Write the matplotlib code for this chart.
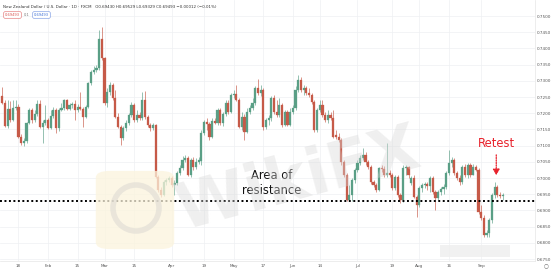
import matplotlib
matplotlib.use("Agg")
import matplotlib.pyplot as plt
from matplotlib.patches import FancyBboxPatch, Rectangle, Ellipse
import numpy as np

W, H = 553, 271

opens = [.7253,.7232,.7161,.7213,.7179,.7216,.7219,.7127,.7108,.7114,.7170,.7210,.7179,.7198,.7228,.7157,.7170,.7179,.7154,.7191,
         .7210,.7154,.7210,.7216,.7241,.7213,.7225,.7228,.7210,.7219,.7213,.7188,.7219,.7293,.7327,.7333,.7340,.7429,.7370,.7232,
         .7266,.7287,.7247,.7188,.7157,.7124,.7154,.7170,.7195,.7225,.7179,.7195,.7185,.7241,.7188,.7164,.7154,.7164,.7003,.6963,
         .6948,.6988,.6994,.7000,.6979,.6985,.7016,.7031,.7056,.7062,.7009,.7056,.7034,.7050,.7053,.7139,.7173,.7167,.7127,.7176,
         .7170,.7210,.7170,.7198,.7232,.7204,.7256,.7259,.7241,.7157,.7188,.7142,.7204,.7216,.7232,.7278,.7262,.7272,.7157,.7179,
         .7185,.7247,.7204,.7195,.7225,.7164,.7204,.7164,.7204,.7216,.7272,.7303,.7272,.7278,.7262,.7256,.7235,.7148,.7210,.7225,
         .7195,.7179,.7195,.7185,.7133,.7127,.7117,.7050,.7009,.6932,.6948,.6994,.7025,.7046,.7062,.7071,.7050,.7034,.6988,.6979,
         .6963,.7031,.7028,.7009,.7016,.7009,.6969,.7003,.6948,.6932,.7031,.7034,.6985,.7000,.6941,.6917,.6969,.6979,.6981,.6975,
         .7000,.6957,.6938,.6957,.6966,.6972,.7016,.7046,.7056,.7016,.7000,.6988,.7034,.7009,.7040,.7009,.7034,.7025,.6895,.6877,
         .6824,.6830,.6870,.6948,.6972,.6948,.6943]
highs = [.7281,.7241,.7241,.7238,.7241,.7241,.7228,.7136,.7124,.7173,.7216,.7216,.7210,.7241,.7241,.7179,.7225,.7185,.7210,.7219,
         .7216,.7216,.7232,.7244,.7244,.7232,.7235,.7241,.7228,.7266,.7219,.7225,.7296,.7333,.7346,.7349,.7457,.7466,.7373,.7278,
         .7296,.7293,.7272,.7201,.7164,.7161,.7179,.7201,.7235,.7232,.7210,.7204,.7266,.7269,.7195,.7170,.7170,.7167,.7009,.6972,
         .6994,.7000,.7006,.7006,.6994,.7022,.7040,.7068,.7071,.7068,.7062,.7065,.7062,.7065,.7148,.7179,.7185,.7173,.7185,.7185,
         .7216,.7216,.7204,.7241,.7241,.7262,.7272,.7287,.7247,.7204,.7198,.7216,.7225,.7247,.7284,.7306,.7287,.7278,.7185,.7195,
         .7253,.7256,.7241,.7247,.7232,.7210,.7210,.7216,.7225,.7284,.7318,.7312,.7287,.7284,.7278,.7262,.7241,.7216,.7241,.7241,
         .7204,.7210,.7204,.7210,.7148,.7139,.7124,.7056,.7016,.6979,.7000,.7031,.7056,.7071,.7093,.7080,.7056,.7040,.6994,.6985,
         .7034,.7040,.7037,.7108,.7025,.7016,.7009,.7009,.6954,.7040,.7040,.7037,.7006,.7009,.6948,.6975,.6985,.6988,.6988,.7006,
         .7006,.6963,.6963,.6972,.6982,.7022,.7086,.7065,.7062,.7022,.7009,.7040,.7043,.7046,.7046,.7043,.7040,.7031,.6917,.6886,
         .6840,.6877,.6954,.6988,.6979,.6957,.6953]
lows =  [.7228,.7157,.7154,.7173,.7176,.7210,.7124,.7102,.7099,.7108,.7167,.7170,.7173,.7191,.7154,.7108,.7164,.7151,.7151,.7185,
         .7139,.7145,.7207,.7210,.7210,.7210,.7216,.7179,.7204,.7210,.7157,.7185,.7216,.7287,.7321,.7327,.7333,.7364,.7225,.7219,
         .7256,.7241,.7185,.7154,.7102,.7117,.7145,.7164,.7188,.7173,.7173,.7179,.7179,.7182,.7157,.7145,.7148,.7000,.6957,.6941,
         .6945,.6979,.6988,.6972,.6948,.6979,.7009,.7025,.7050,.7006,.7003,.7025,.7028,.7043,.7040,.7133,.7148,.7117,.7124,.7167,
         .7164,.7164,.7161,.7191,.7198,.7201,.7247,.7238,.7154,.7148,.7117,.7139,.7198,.7210,.7225,.7256,.7253,.7148,.7151,.7164,
         .7176,.7198,.7188,.7188,.7157,.7161,.7161,.7161,.7198,.7210,.7266,.7266,.7256,.7256,.7250,.7228,.7142,.7142,.7204,.7188,
         .7173,.7170,.7179,.7124,.7120,.7111,.7040,.7003,.6929,.6929,.6929,.6985,.7019,.7040,.7056,.7040,.7028,.6982,.6972,.6957,
         .6960,.7019,.7003,.7003,.7003,.6963,.6963,.6941,.6923,.6926,.7009,.7000,.6979,.6938,.6880,.6911,.6957,.6969,.6963,.6957,
         .6951,.6901,.6932,.6948,.6951,.6966,.7009,.7034,.7009,.6994,.6979,.6982,.7003,.7000,.7003,.7009,.7022,.6889,.6870,.6818,
         .6818,.6818,.6861,.6938,.6941,.6938,.6933]
closes = [.7232,.7161,.7213,.7179,.7216,.7219,.7127,.7108,.7114,.7170,.7210,.7179,.7198,.7228,.7157,.7170,.7179,.7154,.7191,.7210,
          .7154,.7210,.7216,.7241,.7213,.7225,.7228,.7210,.7219,.7213,.7188,.7219,.7293,.7327,.7333,.7340,.7429,.7370,.7232,.7266,
          .7287,.7247,.7188,.7157,.7124,.7154,.7170,.7195,.7225,.7179,.7195,.7185,.7241,.7188,.7164,.7154,.7164,.7003,.6963,.6948,
          .6988,.6994,.7000,.6979,.6985,.7016,.7031,.7056,.7062,.7009,.7056,.7034,.7050,.7056,.7139,.7173,.7167,.7127,.7176,.7170,
          .7210,.7170,.7198,.7232,.7204,.7256,.7259,.7241,.7157,.7188,.7142,.7204,.7216,.7232,.7278,.7262,.7272,.7157,.7179,.7185,
          .7247,.7204,.7195,.7225,.7164,.7204,.7164,.7204,.7216,.7272,.7303,.7272,.7278,.7262,.7256,.7235,.7148,.7210,.7225,.7195,
          .7179,.7195,.7185,.7127,.7127,.7117,.7050,.7009,.6932,.6948,.6994,.7025,.7046,.7062,.7071,.7050,.7034,.6988,.6979,.6963,
          .7031,.7028,.7009,.7016,.7009,.6969,.7003,.6948,.6932,.7031,.7034,.7009,.7000,.6941,.6917,.6969,.6979,.6981,.6975,.7000,
          .6957,.6938,.6957,.6966,.6972,.7016,.7046,.7056,.7016,.7000,.6988,.7034,.7009,.7040,.7009,.7034,.7025,.6895,.6877,.6824,
          .6830,.6870,.6948,.6972,.6948,.6943,.6949]

x_tick_pos = [6, 17, 28, 38, 49, 63, 75, 86, 97, 108, 118, 132, 145, 155, 166, 178]
x_tick_labels = ['18', 'Feb', '15', 'Mar', '15', 'Apr', '19', 'May', '17', 'Jun', '14', 'Jul', '19', 'Aug', '16', 'Sep']
price_ticks = [0.6750, 0.6800, 0.6850, 0.6900, 0.6950, 0.7000, 0.7050, 0.7100,
               0.7150, 0.7200, 0.7250, 0.7300, 0.7350, 0.7400, 0.7450, 0.7500]
resistance_level = 0.6929
retest_index = 183.6
retest_text_price = 0.7108
retest_arrow_start = 0.7080
retest_arrow_end = 0.7000
area_label_index = 100.3
area_label_price = 0.6985

UP = '#5a9f86'
DOWN = '#c65a48'

fig = plt.figure(figsize=(W / 100, H / 100), dpi=100)
fig.patch.set_facecolor('white')
ax = fig.add_axes([0, 10 / H, 535 / W, 261 / H])
ax.set_facecolor('white')

n = len(closes)
idx = np.arange(n)
o = np.array(opens); c = np.array(closes); hi = np.array(highs); lo = np.array(lows)
up = c >= o
cols = np.where(up, UP, DOWN)

ax.vlines(idx, lo, hi, colors=cols, linewidth=0.45, zorder=3)
bottoms = np.minimum(o, c)
heights = np.maximum(np.abs(c - o), 0.00015)
ax.bar(idx, heights, bottom=bottoms, width=0.8, color=cols, edgecolor=cols, linewidth=0.2, zorder=4)

ax.set_xlim(-0.855, 198.0)
ax.set_ylim(0.67439, 0.75494)

ax.set_xticks(x_tick_pos)
ax.set_xticklabels(x_tick_labels)
ax.set_yticks(price_ticks)
ax.set_yticklabels([f'{p:.4f}' for p in price_ticks])
ax.yaxis.tick_right()
ax.tick_params(axis='both', length=0, labelsize=3.0, colors='#555555')
ax.tick_params(axis='x', pad=2.2)
ax.tick_params(axis='y', pad=1.5)
ax.grid(True, color='#eef0f3', linewidth=0.5, zorder=0)
for s in ['top', 'left']:
    ax.spines[s].set_visible(False)
ax.spines['right'].set_color('#e6e6e6'); ax.spines['right'].set_linewidth(0.5)
ax.spines['bottom'].set_color('#e6e6e6'); ax.spines['bottom'].set_linewidth(0.5)

# watermark
fig.patches.append(FancyBboxPatch((98 / W, 1 - 248 / H), 74 / W, 76 / H,
                                  boxstyle='round,pad=0.004,rounding_size=0.025',
                                  transform=fig.transFigure, facecolor='#fcf4dd', edgecolor='none',
                                  alpha=0.75, zorder=1))
fig.patches.append(Ellipse((136 / W, 1 - 208 / H), 46 / W, 46 / H, transform=fig.transFigure, facecolor='none',
                           edgecolor='#dedbd4', linewidth=4, alpha=0.6, zorder=1))
fig.text(298 / W, 1 - 180 / H, 'WikiFX', fontsize=46, fontweight='bold', color='#d9d9d9', alpha=0.4,
         rotation=15, ha='center', va='center', zorder=1)

# resistance line
ax.axhline(resistance_level, color='black', linewidth=1.4, linestyle=(0, (1, 1.3)), zorder=6, clip_on=False)

ax.text(area_label_index, area_label_price, 'Area of\nresistance', fontsize=8.3, ha='center', va='center',
        color='#111111', linespacing=1.25, zorder=7)
ax.text(retest_index, retest_text_price, 'Retest', fontsize=8.3, ha='center', va='center', color='#e8212b', zorder=7)
ax.annotate('', xy=(retest_index, retest_arrow_end), xytext=(retest_index, retest_arrow_start),
            arrowprops=dict(arrowstyle='-|>,head_length=0.35,head_width=0.2', color='#e8212b', lw=0.9,
                            linestyle=(0, (1, 1))), zorder=7)

# header
fig.text(3 / W, 1 - 6.5 / H, 'New Zealand Dollar / U.S. Dollar · 1D · FXCM   O0.69430 H0.69529 L0.69329 C0.69493 −0.00012 (−0.01%)',
         fontsize=2.9, color='#333333', va='center', ha='left')
fig.text(12.5 / W, 1 - 15 / H, '0.69493', fontsize=2.6, color='#d9534f', va='center', ha='center',
         bbox=dict(boxstyle='round,pad=0.35', fc='white', ec='#e06666', lw=0.4))
fig.text(27 / W, 1 - 15 / H, '0.1', fontsize=2.6, color='#777777', va='center', ha='center')
fig.text(41.5 / W, 1 - 15 / H, '0.69493', fontsize=2.6, color='#3d6fd6', va='center', ha='center',
         bbox=dict(boxstyle='round,pad=0.35', fc='white', ec='#6d8fe0', lw=0.4))

# blurred box bottom right
fig.patches.append(Rectangle((440 / W, 1 - 257 / H), 70 / W, 12 / H, transform=fig.transFigure,
                             facecolor='#eeeeee', edgecolor='none', alpha=0.8, zorder=2))
fig.text(546 / W, 1 - 266 / H, '○', fontsize=4, color='#666666', ha='center', va='center')

fig.savefig('out.png', dpi=100, facecolor='white')
